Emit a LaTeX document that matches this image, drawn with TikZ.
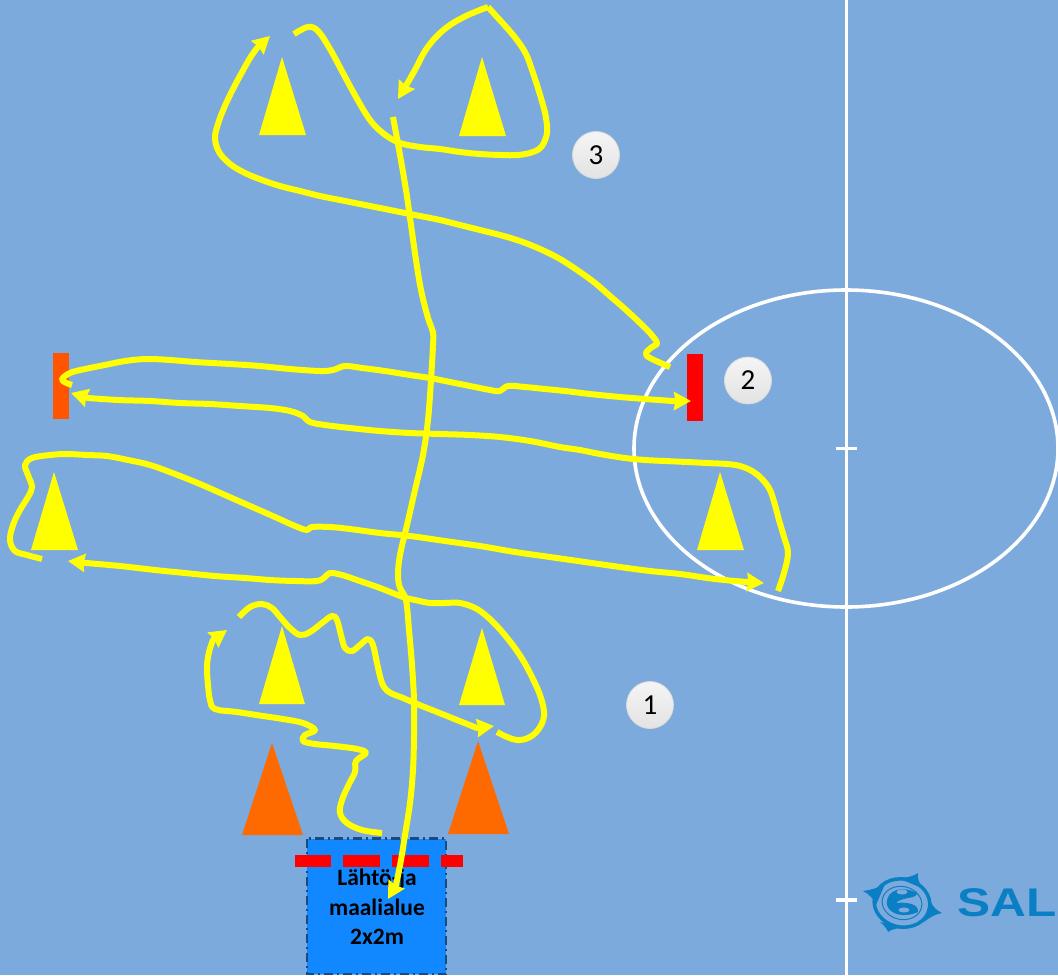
\documentclass[tikz,border=0pt]{standalone}
\usepackage{fontspec}
\setmainfont{Carlito}
\newfontfamily\brandfont{Liberation Sans}
\usetikzlibrary{arrows.meta}
\definecolor{fieldblue}{HTML}{7DAADC}
\definecolor{areablue}{HTML}{1188FF}
\definecolor{areaedge}{HTML}{1B4A80}
\definecolor{coneyellow}{RGB}{255,255,0}
\definecolor{coneorange}{HTML}{FF6A00}
\definecolor{barorange}{HTML}{FF5500}
\definecolor{logoblue}{HTML}{0B7FC4}
\tikzset{
  route/.style={draw=coneyellow, line width=6pt, line join=round},
  tipped/.style={route, -{Stealth[length=17pt, width=18pt, inset=1.5pt]}},
  fieldline/.style={draw=white, line width=3.6pt},
  badge/.style={circle, minimum size=47pt, inner sep=0pt, draw=black!15, line width=.8pt,
    top color=white!96!black, bottom color=white!89!black, font=\fontsize{29}{29}\selectfont},
  areatext/.style={font=\fontsize{23.5}{24}\selectfont\bfseries, text=black}
}
\begin{document}
\begin{tikzpicture}[x=1pt, y=-1pt]
  \useasboundingbox (0,0) rectangle (1058,975);
  \clip (0,0) rectangle (1058,975);
  \fill[fieldblue] (0,0) rectangle (1058,975);

  \draw[fieldline] (846.5,0) -- (846.5,975);
  \draw[fieldline] (846,448.5) ellipse (212 and 158.5);
  \draw[fieldline] (836,448.5) -- (857,448.5);
  \draw[fieldline] (836,900) -- (857,900);

  \fill[coneyellow] (282,57) -- (306,135) -- (259,135) -- cycle;
  \fill[coneyellow] (482,57) -- (506,136) -- (459,136) -- cycle;
  \fill[coneyellow] (54,472) -- (78,550) -- (31,550) -- cycle;
  \fill[coneyellow] (720,472) -- (744,550) -- (697,550) -- cycle;
  \fill[coneyellow] (282,626) -- (305,704) -- (259,704) -- cycle;
  \fill[coneyellow] (482,628) -- (505,705) -- (459,705) -- cycle;
  \fill[coneorange] (272,743) -- (303,835) -- (242,835) -- cycle;
  \fill[coneorange] (478,741) -- (509,834) -- (448,834) -- cycle;
  \fill[barorange] (53,353) rectangle (69,419);
  \fill[red] (687,354) rectangle (703,421);

  \draw[areaedge, fill=areablue, line width=2.4pt, dash pattern=on 9pt off 4pt on 2pt off 4pt]
    (307,838.5) rectangle (446,974);
  \fill[red] (295,855) rectangle (331,867);
  \fill[red] (343,855) rectangle (380,867);
  \fill[red] (392,855) rectangle (429,867);
  \fill[red] (441,855) rectangle (463,867);
  \node[areatext] (arealine1) at (377,879) {Lähtö-ja};
  \node[areatext] (arealine2) at (377,907.5) {maalialue};
  \node[areatext] (arealine3) at (377,937) {2x2m};

  \node[badge] (stage1) at (650,705) {1};
  \node[badge] (stage2) at (748,380.5) {2};
  \node[badge] (stage3) at (596,155) {3};

  \draw[tipped] plot[smooth, tension=0.6] coordinates {(382,833) (362,830) (347,823) (340,813) (342,800) (349,784) (355,772) (356,761) (366,753) (357,749) (335,746) (315,744) (303,741) (305,735) (315,730) (303,723) (283,719) (263,716) (237,712) (215,709) (210,700) (208,685) (207,667) (209,652) (213,640)} -- (227,630);
  \draw[tipped] plot[smooth, tension=0.6] coordinates {(239,617) (250,607) (262,604) (272,608) (280,617) (290,628) (300,635) (310,632) (322,623) (332,616) (337,620) (341,635) (345,648) (352,651) (360,645) (368,639) (373,645) (377,663) (382,683) (389,692) (403,698) (417,704) (437,712) (457,720) (477,728)} -- (494,726);
  \draw[tipped] plot[smooth, tension=0.6] coordinates {(497,732) (507,737) (517,740) (528,738) (538,730) (544,716) (541,698) (532,677) (521,657) (508,639) (493,622) (477,609) (460,603) (445,603) (430,603) (415,600) (403,597) (380,588) (357,580) (342,575) (330,573) (325,577) (317,581) (295,581) (270,580) (245,578) (215,576) (185,573) (155,570) (120,566) (86,563)} -- (68,561);
  \draw[tipped] plot[smooth, tension=0.6] coordinates {(42,559) (27,555) (15,551) (10,540) (13,525) (20,510) (28,497) (32,487) (28,475) (25,465) (32,458) (50,455) (67,454) (87,455) (107,456) (128,460) (150,465) (175,474) (200,484) (225,495) (250,506) (275,517) (295,526) (307,530) (312,527) (330,527) (350,529) (380,533) (410,536) (445,541) (480,546) (515,552) (550,557) (585,562) (620,567) (650,571) (680,574) (715,579) (747,582)} -- (764,583);
  \draw[tipped] plot[smooth, tension=0.6] coordinates {(778,591) (784,573) (788,553) (784,537) (779,520) (775,505) (770,490) (762,479) (752,471) (740,466) (727,464) (707,463) (687,462) (665,461) (645,460) (625,458) (600,454) (580,450) (560,447) (530,441) (500,437) (470,435) (440,434) (410,433) (380,431) (350,428) (325,425) (310,422) (303,416) (290,411) (270,408) (240,406) (210,404) (180,403) (150,401) (118,400) (88,398)} -- (71,393);
  \draw[tipped] plot[smooth, tension=0.6] coordinates {(72,385) (62,380) (70,373) (85,369) (105,365) (125,361) (147,359) (170,360) (195,362) (230,364) (260,366) (290,369) (320,371) (333,370) (345,366) (362,368) (385,371) (410,375) (430,378) (450,382) (470,386) (490,390) (500,391) (508,386) (525,387) (545,389) (565,391) (590,394) (620,397) (645,399) (673,401)} -- (691,401);
  \draw[tipped] plot[smooth, tension=0.6] coordinates {(670,367) (650,358) (646,353) (652,347) (657,343) (650,333) (640,323) (625,309) (610,296) (595,283) (580,272) (560,259) (540,249) (520,241) (500,235) (480,230) (460,225) (440,220) (420,216) (400,212) (380,208) (360,204) (340,200) (320,196) (300,191) (280,186) (262,180) (245,173) (230,164) (219,152) (215,138) (218,124) (224,108) (232,91) (241,74) (250,58) (257,48)} -- (270,36);
  \draw[route] plot[smooth, tension=0.6] coordinates {(294,34) (308,27) (318,31) (330,49) (343,73) (356,97) (370,120) (384,134) (400,143) (420,147) (440,149) (460,152) (480,154) (500,155) (518,155) (533,152) (542,146) (547,133) (546,118) (543,105) (537,85) (532,70) (526,54) (517,40) (507,28) (498,18) (488,7)};
  \draw[tipped] plot[smooth, tension=0.6] coordinates {(488,7) (468,15) (450,25) (436,37) (425,51) (416,68) (407,84)} -- (398,99);
  \draw[tipped] plot[smooth, tension=0.6] coordinates {(393,117) (400,155) (406,190) (411,225) (416,260) (421,290) (428,318) (433,332) (433,345) (431,380) (428,420) (423,455) (415,490) (407,525) (400,555) (398,575) (400,588) (406,600) (409,630) (412,665) (414,700) (414,735) (413,770) (410,803) (405,835) (401,860) (396,885)} -- (388,899);

  \draw[logoblue, line width=3.5pt, rotate around={-12:(902,903)}] (902,903) ellipse (28 and 24);
  \draw[logoblue, line width=1pt, rotate around={-12:(902,903)}] (902,903) ellipse (20 and 16.5);
  \fill[logoblue] (885,884) .. controls (878,888) and (870,890) .. (863,891) .. controls (869,894) and (874,899) .. (876,905) -- cycle;
  \fill[logoblue] (898,878) .. controls (907,878) and (914,876) .. (918,873) .. controls (917,878) and (919,884) .. (924,889) -- cycle;
  \fill[logoblue] (930,900) .. controls (932,906) and (937,911) .. (942,913) .. controls (936,914) and (930,917) .. (924,922) -- cycle;
  \fill[logoblue] (880,922) .. controls (884,925) and (887,929) .. (888,932) .. controls (892,929) and (898,928) .. (906,927) -- cycle;
  \fill[logoblue] (887,905) .. controls (885,888) and (905,886) .. (917,893)
    .. controls (918,899) and (900,897) .. (896,903) .. controls (905,902) and (919,903) .. (918,912)
    .. controls (905,918) and (890,915) .. (887,905) -- cycle;
  \fill[fieldblue] (902,892) ellipse (5.5 and 2.5);
  \fill[fieldblue] (904,910) ellipse (5.5 and 2.5);
  \node[anchor=west, inner sep=0pt, text=logoblue, xscale=1.24, font=\brandfont\fontsize{40}{40}\selectfont\bfseries] (brand) at (957,903) {SAL};
\end{tikzpicture}
\end{document}
